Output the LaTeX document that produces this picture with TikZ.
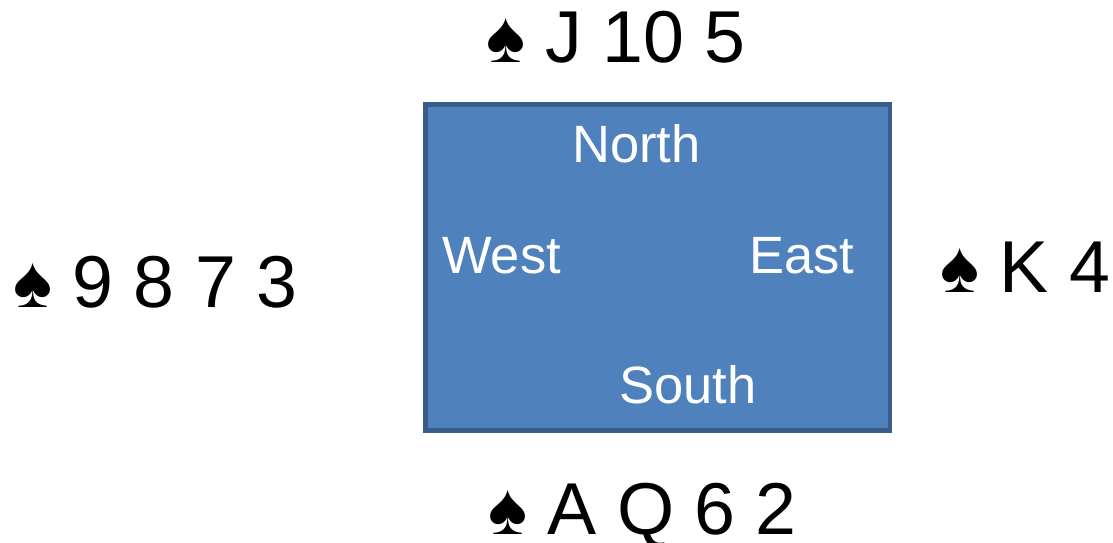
\documentclass[tikz,border=0pt]{standalone}
\usepackage{fontspec}
\setmainfont{Liberation Sans}
\definecolor{tablefill}{HTML}{4F81BD}
\definecolor{tableedge}{HTML}{385D8A}
\begin{document}
\begin{tikzpicture}[x=1pt,y=-1pt,
  hand/.style={anchor=base west,inner sep=0pt,font=\fontsize{73.5}{88}\selectfont},
  seat/.style={anchor=base west,inner sep=0pt,text=white,font=\fontsize{52.5}{63}\selectfont}]
\useasboundingbox (0,0) rectangle (1113,543);
\draw[fill=tablefill,draw=tableedge,line width=4.8pt] (425.5,104.8) rectangle (890,430.8);
\node[seat] (north) at (572,162) {North};
\node[seat] (west) at (442,273) {West};
\node[seat] (east) at (749,273) {East};
\node[seat] (south) at (619,403) {South};
\node[hand] (nhand) at (486,63) {♠ J 10 5};
\node[hand] (whand) at (13,307) {♠ 9 8 7 3};
\node[hand] (ehand) at (940,292) {♠ K 4};
\node[hand] (shand) at (488,534) {♠ A Q 6 2};
\end{tikzpicture}
\end{document}
